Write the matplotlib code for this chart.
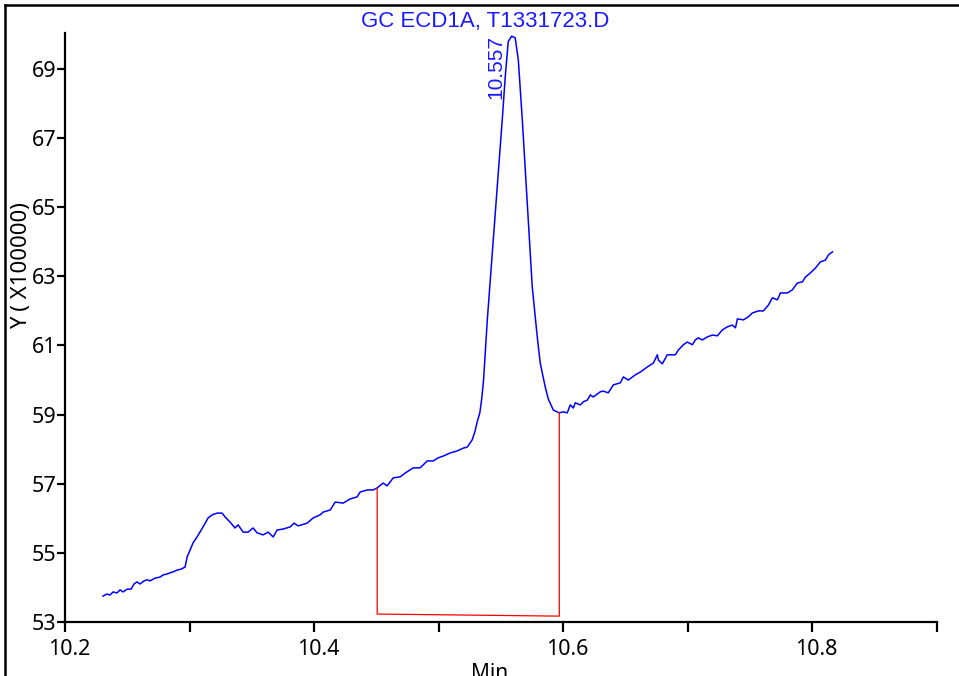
import matplotlib
matplotlib.use("Agg")
import matplotlib.pyplot as plt
import matplotlib.transforms as mtransforms
from matplotlib.lines import Line2D

# ---------------------------- data ----------------------------
time_min = [
    10.2305, 10.2337, 10.2361, 10.2386, 10.2418, 10.2442, 10.2466, 10.2498, 10.2530, 10.2554,
    10.2578, 10.2602, 10.2635, 10.2659, 10.2683, 10.2723, 10.2763, 10.2787, 10.2819, 10.2867,
    10.2900, 10.2932, 10.2964, 10.2980, 10.3004, 10.3028, 10.3060, 10.3108, 10.3149, 10.3181,
    10.3221, 10.3261, 10.3285, 10.3325, 10.3365, 10.3390, 10.3430, 10.3470, 10.3510, 10.3542,
    10.3590, 10.3631, 10.3671, 10.3703, 10.3751, 10.3807, 10.3839, 10.3871, 10.3944, 10.3992,
    10.4048, 10.4072, 10.4129, 10.4169, 10.4233, 10.4289, 10.4345, 10.4369, 10.4426, 10.4474,
    10.4506, 10.4554, 10.4586, 10.4635, 10.4691, 10.4731, 10.4795, 10.4851, 10.4908, 10.4956,
    10.4996, 10.5036, 10.5092, 10.5149, 10.5197, 10.5229, 10.5269, 10.5290, 10.5309, 10.5330,
    10.5345, 10.5360, 10.5390, 10.5430, 10.5470, 10.5510, 10.5534, 10.5558, 10.5585, 10.5614,
    10.5639, 10.5671, 10.5711, 10.5751, 10.5791, 10.5815, 10.5855, 10.5880, 10.5920, 10.5968,
    10.6000, 10.6032, 10.6056, 10.6080, 10.6096, 10.6137, 10.6161, 10.6193, 10.6217, 10.6241,
    10.6297, 10.6321, 10.6361, 10.6402, 10.6458, 10.6482, 10.6522, 10.6578, 10.6618, 10.6675,
    10.6723, 10.6755, 10.6763, 10.6795, 10.6835, 10.6900, 10.6924, 10.6964, 10.6996, 10.7036,
    10.7060, 10.7084, 10.7116, 10.7157, 10.7197, 10.7237, 10.7277, 10.7317, 10.7357, 10.7382,
    10.7398, 10.7446, 10.7486, 10.7518, 10.7566, 10.7606, 10.7647, 10.7679, 10.7719, 10.7743,
    10.7799, 10.7839, 10.7880, 10.7920, 10.7944, 10.7984, 10.8024, 10.8064, 10.8104, 10.8129,
    10.8161,
]
signal = [
    53.75, 53.81, 53.78, 53.87, 53.84, 53.93, 53.87, 53.95, 53.95, 54.10,
    54.16, 54.10, 54.19, 54.22, 54.19, 54.27, 54.30, 54.36, 54.39, 54.45,
    54.50, 54.53, 54.59, 54.88, 55.08, 55.29, 55.46, 55.75, 56.01, 56.10,
    56.15, 56.15, 56.04, 55.89, 55.72, 55.81, 55.60, 55.60, 55.72, 55.58,
    55.52, 55.60, 55.46, 55.66, 55.69, 55.75, 55.86, 55.78, 55.86, 56.01,
    56.10, 56.18, 56.24, 56.47, 56.44, 56.56, 56.62, 56.76, 56.82, 56.82,
    56.88, 57.02, 56.94, 57.17, 57.20, 57.31, 57.46, 57.46, 57.66, 57.66,
    57.75, 57.80, 57.89, 57.95, 58.03, 58.06, 58.27, 58.50, 58.79, 59.05,
    59.45, 60.00, 61.74, 63.68, 65.59, 67.53, 68.77, 69.79, 69.95, 69.90,
    69.26, 67.53, 65.12, 62.69, 61.25, 60.49, 59.80, 59.45, 59.13, 59.05,
    59.08, 59.05, 59.28, 59.19, 59.34, 59.28, 59.37, 59.42, 59.57, 59.51,
    59.66, 59.68, 59.63, 59.86, 59.92, 60.09, 60.00, 60.15, 60.23, 60.38,
    60.49, 60.73, 60.58, 60.47, 60.73, 60.73, 60.87, 61.02, 61.10, 61.02,
    61.16, 61.22, 61.16, 61.25, 61.30, 61.28, 61.45, 61.54, 61.59, 61.51,
    61.77, 61.74, 61.83, 61.94, 62.00, 62.00, 62.17, 62.38, 62.32, 62.52,
    62.52, 62.61, 62.81, 62.84, 62.98, 63.10, 63.24, 63.42, 63.47, 63.62,
    63.71,
]

# integration baseline (drop lines + base)
base_x = [10.4506, 10.4506, 10.5968, 10.5968]
base_y = [56.88, 53.23, 53.17, 59.05]

peak_rt = "10.557"
x_major = [10.2, 10.4, 10.6, 10.8]
x_minor = [10.3, 10.5, 10.7, 10.9]
y_ticks = [53, 55, 57, 59, 61, 63, 65, 67, 69]

# ---------------------------- draw ----------------------------
W, H = 959, 676
fig = plt.figure(figsize=(W / 100, H / 100), dpi=100)
ax = fig.add_axes([65 / W, 1 - 622 / H, (937 - 65) / W, (622 - 33) / H])

ax.plot(time_min, signal, color="#0000ff", lw=1.1)
ax.plot(base_x, base_y, color="#ff0000", lw=0.9)

ax.set_xlim(10.2, 10.9)
ax.set_ylim(53, 70.04)

for s in ["top", "right"]:
    ax.spines[s].set_visible(False)
for s in ["left", "bottom"]:
    ax.spines[s].set_linewidth(1.6)

ax.set_xticks(x_major)
ax.set_xticks(x_minor, minor=True)
ax.set_xticklabels([f"{v:.1f}" for v in x_major], fontsize=15.5, family="Noto Sans")
ax.set_yticks(y_ticks)
ax.set_yticklabels([str(v) for v in y_ticks], fontsize=15.5, family="Noto Sans")
ax.tick_params(axis="x", which="both", length=7.5, width=1.6, pad=5)
ax.tick_params(axis="y", length=6, width=1.6, pad=0)

# labels sit a few pixels right of their ticks in the original
shift = mtransforms.ScaledTranslation(4 / 100, 0, fig.dpi_scale_trans)
for lab in ax.get_xticklabels():
    lab.set_transform(lab.get_transform() + shift)

ax.text(10.5538, 69.98, peak_rt, rotation=90, ha="right", va="top",
        color="#1a1aff", fontsize=15, family="Liberation Sans")

fig.text(485 / W, 1 - 21 / H, "GC ECD1A, T1331723.D", ha="center", va="center",
         color="#1a1aff", fontsize=16, family="Liberation Sans")
fig.text(22 / W, 1 - 266 / H, "Y ( X100000)", rotation=90, ha="center", va="center",
         fontsize=16, family="Noto Sans")
fig.text(490 / W, 1 - 663 / H, "Min", ha="center", va="top",
         fontsize=15, family="Noto Sans")

# outer frame (cut off at right and bottom)
fig.add_artist(Line2D([5 / W, 5 / W], [0, 1 - 5 / H], color="black", lw=1.8,
                      transform=fig.transFigure))
fig.add_artist(Line2D([5 / W, 1], [1 - 5 / H, 1 - 5 / H], color="black", lw=1.8,
                      transform=fig.transFigure))

fig.savefig("out.png", dpi=100)
